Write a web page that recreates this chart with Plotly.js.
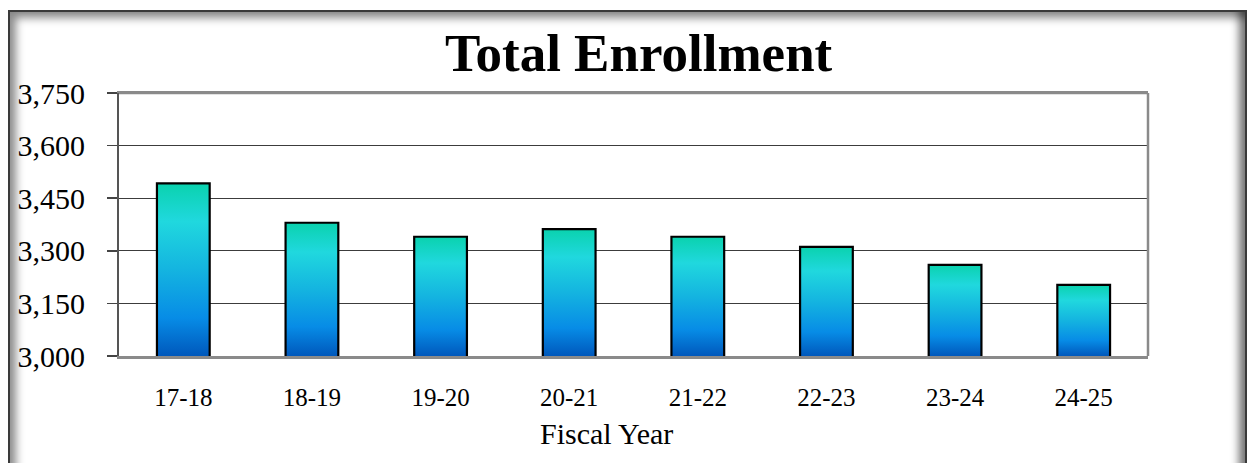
<!DOCTYPE html>
<html>
<head>
<meta charset="utf-8">
<script src="https://cdn.plot.ly/plotly-3.0.1.min.js"></script>
<style>
  html, body { margin:0; padding:0; background:#fff; }
  #wrap { position:relative; width:1249px; height:463px; overflow:hidden; }
  #chart { position:absolute; left:0; top:0; width:1249px; height:463px; }
  #frame {
    position:absolute; left:8px; top:10px; width:1239px; height:520px;
    box-sizing:border-box; border:2px solid #3a3a3a; border-bottom:none;
    box-shadow: inset 12px 12px 8px -6px rgba(0,0,0,0.45), inset -12px 0 8px -6px rgba(0,0,0,0.55);
    pointer-events:none;
  }
</style>
</head>
<body>
<div id="wrap">
  <div id="chart"></div>
  <div id="frame"></div>
</div>
<script>
const categories = ["17-18", "18-19", "19-20", "20-21", "21-22", "22-23", "23-24", "24-25"];
const enrollment = [3492, 3380, 3340, 3362, 3340, 3311, 3260, 3203];
const yTickValues = [3000, 3150, 3300, 3450, 3600, 3750];
const chartTitle = "Total Enrollment";
const xAxisTitle = "Fiscal Year";

const FONT = "Liberation Serif, Times New Roman, serif";

const trace = {
  type: "bar",
  x: categories,
  y: enrollment,
  marker: { color: "#14B8E0", line: { color: "#000", width: 2.2 } },
  hoverinfo: "x+y"
};

const layout = {
  width: 1249, height: 463,
  margin: { l: 119, r: 101, t: 93, b: 107 },
  paper_bgcolor: "#fff", plot_bgcolor: "#fff",
  showlegend: false,
  bargap: 0.59,
  font: { family: FONT, color: "#000" },
  xaxis: {
    type: "category",
    showgrid: false,
    showline: true, linecolor: "#8a8a8a", linewidth: 2.5, mirror: true,
    ticks: "", ticklabelstandoff: 17,
    tickfont: { family: FONT, size: 25, color: "#000" },
    zeroline: false
  },
  yaxis: {
    range: [3000, 3750],
    tickvals: yTickValues,
    tickformat: ",d",
    showgrid: true, gridcolor: "#3c3c3c", gridwidth: 1.3,
    showline: true, linecolor: "#555", linewidth: 2,
    ticks: "outside", ticklen: 10, tickcolor: "#444", tickwidth: 1.5,
    ticklabelstandoff: 16,
    tickfont: { family: FONT, size: 30, color: "#000" },
    zeroline: false
  },
  shapes: [
    { type: "line", xref: "paper", yref: "paper", x0: 0, x1: 1, y0: 1, y1: 1,
      line: { color: "#8a8a8a", width: 2.5 } },
    { type: "line", xref: "paper", yref: "paper", x0: 1, x1: 1, y0: 0, y1: 1,
      line: { color: "#8a8a8a", width: 2.5 } }
  ],
  annotations: [
    { text: chartTitle, xref: "paper", yref: "paper", x: 0.5053, y: 1.152,
      xanchor: "center", yanchor: "middle", showarrow: false,
      font: { family: FONT, size: 53, color: "#000", weight: "bold" } },
    { text: xAxisTitle, xref: "paper", yref: "paper", x: 0.4742, y: -0.2947,
      xanchor: "center", yanchor: "middle", showarrow: false,
      font: { family: FONT, size: 30, color: "#000" } }
  ]
};

Plotly.newPlot("chart", [trace], layout, { displayModeBar: false, staticPlot: true }).then(function (gd) {
  const svg = gd.querySelector(".main-svg");
  const ns = "http://www.w3.org/2000/svg";
  let defs = svg.querySelector("defs");
  if (!defs) { defs = document.createElementNS(ns, "defs"); svg.insertBefore(defs, svg.firstChild); }
  const bottom = gd._fullLayout.yaxis._length;
  const stops = [[0, "#0AD2AE"], [0.22, "#20D8DE"], [0.5, "#14B4E0"], [0.78, "#078CE6"], [1, "#0058BC"]];
  gd.querySelectorAll(".trace.bars .point path").forEach(function (p, i) {
    const nums = (p.getAttribute("d").match(/-?\d+(\.\d+)?/g) || []).map(Number);
    const ys = nums.filter(function (_, k) { return k % 2 === 1; });
    // path form: M x,y V y H x V y Z  -> collect y values robustly
    const d = p.getAttribute("d");
    const yv = [];
    const re = /([MVLH])\s*([-\d.]+)(?:,([-\d.]+))?/g;
    let m;
    while ((m = re.exec(d))) {
      if (m[1] === "M" || m[1] === "L") yv.push(parseFloat(m[3]));
      else if (m[1] === "V") yv.push(parseFloat(m[2]));
    }
    const top = Math.min.apply(null, yv.length ? yv : ys);
    const grad = document.createElementNS(ns, "linearGradient");
    grad.setAttribute("id", "barGrad" + i);
    grad.setAttribute("gradientUnits", "userSpaceOnUse");
    grad.setAttribute("x1", "0"); grad.setAttribute("y1", String(top));
    grad.setAttribute("x2", "0"); grad.setAttribute("y2", String(bottom));
    stops.forEach(function (s) {
      const st = document.createElementNS(ns, "stop");
      st.setAttribute("offset", s[0]);
      st.setAttribute("stop-color", s[1]);
      grad.appendChild(st);
    });
    defs.appendChild(grad);
    p.style.fill = "url(#barGrad" + i + ")";
  });
});
</script>
</body>
</html>
